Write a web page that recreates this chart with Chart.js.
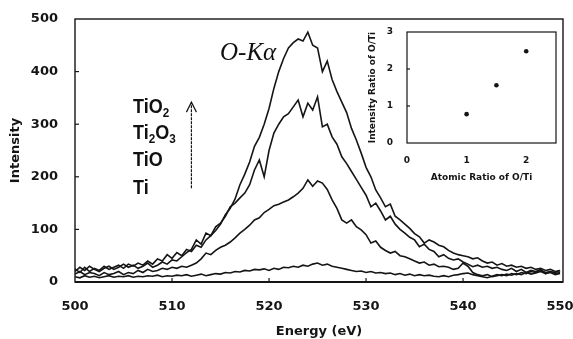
<!DOCTYPE html>
<html>
<head>
<meta charset="utf-8">
<script src="https://cdn.jsdelivr.net/npm/chart.js@4.4.1/dist/chart.umd.min.js"></script>
<style>
html,body{margin:0;padding:0;background:#fff;}
#wrap{position:relative;width:573px;height:339px;overflow:hidden;background:#fff;}
#main{position:absolute;left:0;top:0;}
#inset{position:absolute;left:355px;top:16px;}
.lbl{position:absolute;font:bold 20px "Liberation Sans",Arial,sans-serif;line-height:20px;color:#111;white-space:nowrap;transform:scaleX(0.9);transform-origin:0 0;}
.lbl sub{font-size:13px;line-height:0;vertical-align:-4px;}
.oka{position:absolute;font:italic 25px "Liberation Serif","Times New Roman",serif;line-height:25px;color:#111;white-space:nowrap;}
</style>
</head>
<body>
<div id="wrap">
  <canvas id="main" width="573" height="339"></canvas>
  <canvas id="inset" width="210" height="180"></canvas>
  <div class="oka" style="left:220px;top:39px;">O-Kα</div>
  <div class="lbl" style="left:133px;top:96px;">TiO<sub>2</sub></div>
  <div class="lbl" style="left:133px;top:122px;">Ti<sub>2</sub>O<sub>3</sub></div>
  <div class="lbl" style="left:133px;top:149px;">TiO</div>
  <div class="lbl" style="left:133px;top:177px;">Ti</div>
</div>
<script>
// ---- Data ----
const energy = [
  500,500.5,501,501.5,502,502.5,503,503.5,504,504.5,505,
  505.5,506,506.5,507,507.5,508,508.5,509,509.5,510,
  510.5,511,511.5,512,512.5,513,513.5,514,514.5,515,
  515.5,516,516.5,517,517.5,518,518.5,519,519.5,520,
  520.5,521,521.5,522,522.5,523,523.5,524,524.5,525,
  525.5,526,526.5,527,527.5,528,528.5,529,529.5,530,
  530.5,531,531.5,532,532.5,533,533.5,534,534.5,535,
  535.5,536,536.5,537,537.5,538,538.5,539,539.5,540,
  540.5,541,541.5,542,542.5,543,543.5,544,544.5,545,
  545.5,546,546.5,547,547.5,548,548.5,549,549.5,550
];
const tio2 = [
  25,18,28,20,26,22,30,24,28,32,26,
  34,30,36,32,40,34,44,40,52,45,
  56,50,62,58,70,66,80,88,98,110,
  128,140,158,185,205,228,258,275,300,330,
  368,400,425,445,455,462,458,475,450,445,
  400,420,385,362,342,322,292,270,245,218,
  200,175,160,143,148,125,118,110,102,92,
  86,74,80,76,70,67,60,55,52,50,
  48,44,46,40,36,38,32,35,30,32,
  28,30,26,28,24,26,22,24,20,22
];
const ti2o3 = [
  20,28,22,30,24,20,26,30,24,28,34,
  28,32,26,30,36,28,32,38,34,42,
  40,48,56,62,80,72,93,88,105,112,
  125,143,150,160,169,185,213,232,200,250,
  283,300,314,320,333,346,314,340,327,352,
  295,300,276,262,238,225,210,195,180,165,
  143,150,135,118,125,110,100,93,85,80,
  67,72,62,58,48,52,45,42,44,38,
  34,29,32,28,30,26,28,24,22,26,
  20,24,18,22,20,24,16,20,18,22
];
const tio = [
  15,20,14,18,16,12,18,14,16,20,14,
  18,16,22,18,24,20,22,26,24,28,
  26,30,28,32,36,44,55,52,60,66,
  70,76,84,93,100,108,118,122,132,138,
  145,148,152,156,162,169,178,194,182,192,
  188,176,156,140,118,112,118,105,99,90,
  74,78,66,60,55,58,50,48,44,40,
  36,38,32,34,29,30,28,24,26,36,
  30,18,14,12,14,10,12,14,12,16,
  14,18,16,20,18,22,18,20,16,18
];
const ti = [
  10,8,12,9,11,8,10,12,9,11,10,
  12,9,11,10,12,11,13,10,12,11,
  13,12,14,11,13,15,12,14,16,15,
  18,17,20,19,22,21,24,23,25,22,
  26,24,28,27,30,28,32,30,34,36,
  32,34,30,28,26,24,22,20,21,18,
  20,17,18,16,17,14,16,13,15,12,
  14,12,13,11,10,12,10,13,14,16,
  17,14,12,10,8,11,14,12,15,13,
  16,14,18,15,17,20,16,18,14,16
];
const seriesNames = ['TiO2','Ti2O3','TiO','Ti'];
const xTicks = [500,510,520,530,540,550];
const yTicks = [0,100,200,300,400,500];

const atomicRatio = [1.0, 1.5, 2.0];
const intensityRatio = [0.78, 1.56, 2.48];
const insetXTicks = [0,1,2];
const insetYTicks = [0,1,2,3];

// ---- Main chart ----
const ink = '#151515';
const tickFont = {family:'"DejaVu Sans", sans-serif', weight:'bold', size:13};
const titleFont = {family:'"DejaVu Sans", sans-serif', weight:'bold', size:13};
const allSeries = [tio2, ti2o3, tio, ti];

const framePlugin = {
  id:'frame',
  afterDraw(chart){
    const {ctx, chartArea:a, scales} = chart;
    ctx.save();
    ctx.strokeStyle = ink;
    ctx.lineWidth = 1.4;
    ctx.strokeRect(a.left, a.top, a.right-a.left, a.bottom-a.top);
    ctx.lineWidth = 2.2;
    ctx.beginPath(); ctx.moveTo(a.left, a.bottom); ctx.lineTo(a.right, a.bottom); ctx.stroke();
    ctx.lineWidth = 1.2;
    yTicks.slice(1,-1).forEach(v=>{
      const y = scales.y.getPixelForValue(v);
      ctx.beginPath(); ctx.moveTo(a.left, y); ctx.lineTo(a.left+4, y); ctx.stroke();
    });
    xTicks.slice(1,-1).forEach(v=>{
      const x = scales.x.getPixelForValue(v);
      ctx.beginPath(); ctx.moveTo(x, a.bottom); ctx.lineTo(x, a.bottom-4); ctx.stroke();
    });
    // upward arrow (in data coordinates)
    const ax = scales.x.getPixelForValue(512);
    const y0 = scales.y.getPixelForValue(178);
    const y1 = scales.y.getPixelForValue(342);
    ctx.lineWidth = 1.2;
    ctx.setLineDash([3,1]);
    ctx.beginPath(); ctx.moveTo(ax, y0); ctx.lineTo(ax, y1); ctx.stroke();
    ctx.setLineDash([]);
    ctx.beginPath(); ctx.moveTo(ax-5, y1+10); ctx.lineTo(ax, y1); ctx.lineTo(ax+5, y1+10); ctx.stroke();
    ctx.restore();
  }
};

new Chart(document.getElementById('main'), {
  type:'line',
  data:{
    datasets: allSeries.map((vals, k)=>({
      label: seriesNames[k],
      data: energy.map((e,i)=>({x:e, y:vals[i]})),
      borderColor: ink,
      borderWidth: 1.6,
      pointRadius: 0,
      tension: 0,
      fill: false
    }))
  },
  options:{
    responsive:false,
    animation:false,
    events:[],
    layout:{padding:{top:19,right:10,left:0,bottom:0}},
    plugins:{legend:{display:false}, tooltip:{enabled:false}},
    scales:{
      x:{
        type:'linear', min:500, max:550.3,
        afterBuildTicks: s=>{ s.ticks = xTicks.map(v=>({value:v})); },
        afterFit: s=>{ s.height = 57; s.paddingLeft = 0; s.paddingRight = 0; },
        grid:{display:false, drawTicks:false},
        border:{display:false},
        ticks:{font:tickFont, color:ink, padding:17, autoSkip:false, maxRotation:0},
        title:{display:true, text:'Energy (eV)', font:titleFont, color:ink, padding:{top:0,bottom:0}}
      },
      y:{
        type:'linear', min:0, max:500,
        afterBuildTicks: s=>{ s.ticks = yTicks.map(v=>({value:v})); },
        afterFit: s=>{ s.width = 75; s.paddingTop = 0; s.paddingBottom = 0; },
        grid:{display:false, drawTicks:false},
        border:{display:false},
        ticks:{font:tickFont, color:ink, padding:17, autoSkip:false},
        title:{display:true, text:'Intensity', font:titleFont, color:ink, padding:{top:8,bottom:0}}
      }
    }
  },
  plugins:[framePlugin]
});

// ---- Inset chart ----
const insetFont = {family:'"DejaVu Sans", sans-serif', weight:'bold', size:9};
const insetFrame = {
  id:'insetFrame',
  afterDraw(chart){
    const {ctx, chartArea:a, scales} = chart;
    ctx.save();
    ctx.strokeStyle = ink;
    ctx.lineWidth = 1.2;
    ctx.strokeRect(a.left, a.top, a.right-a.left, a.bottom-a.top);
    insetYTicks.slice(1,-1).forEach(v=>{
      const y = scales.y.getPixelForValue(v);
      ctx.beginPath(); ctx.moveTo(a.left, y); ctx.lineTo(a.left+3, y); ctx.stroke();
    });
    ctx.restore();
  }
};
new Chart(document.getElementById('inset'), {
  type:'scatter',
  data:{datasets:[{
    data: atomicRatio.map((v,i)=>({x:v, y:intensityRatio[i]})),
    pointRadius:2.3, pointBackgroundColor:ink, pointBorderColor:ink, pointBorderWidth:0
  }]},
  options:{
    responsive:false,
    animation:false,
    events:[],
    layout:{padding:{top:16,right:9,left:0,bottom:0}},
    plugins:{legend:{display:false}, tooltip:{enabled:false}},
    scales:{
      x:{
        type:'linear', min:0, max:2.5,
        afterBuildTicks: s=>{ s.ticks = insetXTicks.map(v=>({value:v})); },
        afterFit: s=>{ s.height = 53; s.paddingLeft = 0; s.paddingRight = 0; },
        grid:{display:false, drawTicks:false},
        border:{display:false},
        ticks:{font:insetFont, color:ink, padding:12, autoSkip:false, maxRotation:0},
        title:{display:true, text:'Atomic Ratio of O/Ti', font:insetFont, color:ink, padding:{top:0,bottom:13}}
      },
      y:{
        type:'linear', min:0, max:3,
        afterBuildTicks: s=>{ s.ticks = insetYTicks.map(v=>({value:v})); },
        afterFit: s=>{ s.width = 52; s.paddingTop = 0; s.paddingBottom = 0; },
        grid:{display:false, drawTicks:false},
        border:{display:false},
        ticks:{font:insetFont, color:ink, padding:14, autoSkip:false},
        title:{display:true, text:'Intensity Ratio of O/Ti', font:insetFont, color:ink, padding:{top:12,bottom:0}}
      }
    }
  },
  plugins:[insetFrame]
});
</script>
</body>
</html>
